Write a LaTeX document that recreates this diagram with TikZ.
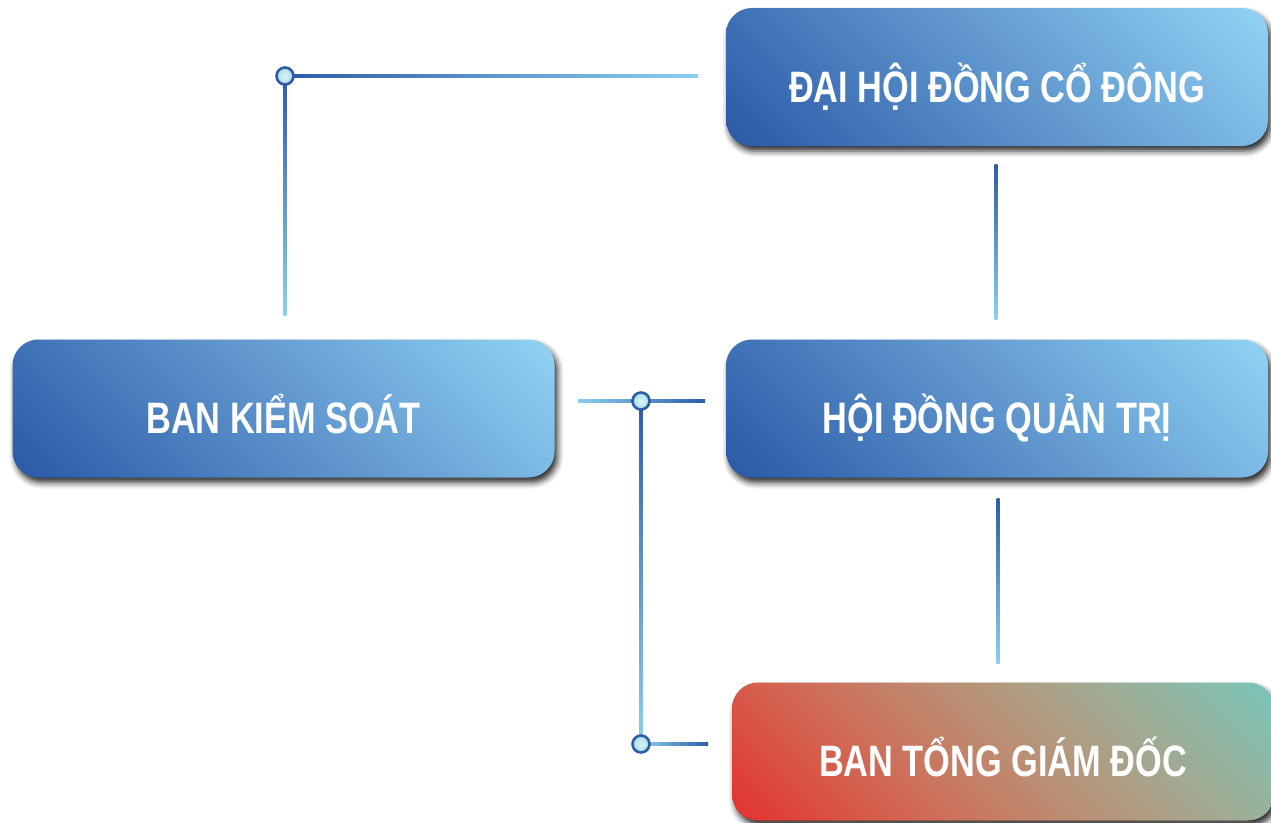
\documentclass[tikz,border=0pt]{standalone}
\usepackage{fontspec}
\newfontfamily\boxfont{Liberation Sans}[FakeStretch=0.78]
\usetikzlibrary{shadows.blur,calc}
\definecolor{ldark}{HTML}{2D5CA8}
\definecolor{llight}{HTML}{8CCFF0}
\definecolor{dotfill}{HTML}{A9DDE6}
% diagonal gradients: box fills inner 50bp square; t = 0..1 from lower-left to upper-right corner
\pgfdeclarefunctionalshading{bluegrad}{\pgfpointorigin}{\pgfpoint{100bp}{100bp}}{}{
  0.0040588 mul exch 0.015941 mul add 0.5 sub
  dup dup 0.408 mul 0.165 add 3 1 roll 0.482 mul 0.345 add exch 0.306 mul 0.651 add
}
\pgfdeclarefunctionalshading{redgrad}{\pgfpointorigin}{\pgfpoint{100bp}{100bp}}{}{
  0.0040588 mul exch 0.015941 mul add 0.5 sub
  dup dup -0.226 mul -0.193 add mul 0.890 add exch
  dup dup -0.282 mul 0.863 add mul 0.188 add exch
  dup 0.038 mul 0.507 add mul 0.184 add
}
\tikzset{
  box/.style={rounded corners=26pt, minimum width=542pt, minimum height=138pt,
    inner sep=0pt, text=white, font=\boxfont\bfseries\fontsize{44}{44}\selectfont,
    text height=50pt, text depth=0pt,
    blur shadow={shadow xshift=3pt, shadow yshift=-5pt, shadow blur radius=6pt, shadow opacity=85}},
  bluebox/.style={box, shade, shading=bluegrad},
  redbox/.style={box, shade, shading=redgrad},
  dot/.style={circle, minimum size=17pt, inner sep=0pt, draw=ldark, line width=2.6pt,
    inner color=dotfill!40!white, outer color=dotfill},
  hline/.style={left color=ldark, right color=llight},
  hlinerev/.style={left color=llight, right color=ldark},
  vline/.style={top color=ldark, bottom color=llight},
}
\begin{document}
\begin{tikzpicture}[x=1pt,y=-1pt]
\useasboundingbox (0,0) rectangle (1271,822);
% boxes
\node[bluebox] (dhd) at (997,77) {ĐẠI HỘI ĐỒNG CỔ ĐÔNG};
\node[bluebox] (bks) at (283.5,408.5) {BAN KIỂM SOÁT};
\node[bluebox] (hdqt) at (997,408.5) {HỘI ĐỒNG QUẢN TRỊ};
\node[redbox] (btgd) at (1003,751.5) {BAN TỔNG GIÁM ĐỐC};
% connector coordinates
\coordinate (c1) at (285,76);
\coordinate (e1) at (698,76);
\coordinate (e2) at (285,315);
\coordinate (a3) at (996,164);
\coordinate (b3) at (996,319);
\coordinate (a4) at (998,498);
\coordinate (b4) at (998,663);
\coordinate (c2) at (641,401);
\coordinate (l5) at (578,401);
\coordinate (r5) at (705,401);
\coordinate (c3) at (641,744);
\coordinate (r7) at (708,744);
% lines
\shade[hline] ($(c1)+(0,-1.5)$) rectangle ($(e1)+(0,1.5)$);
\shade[vline] ($(c1)+(-1.5,0)$) rectangle ($(e2)+(1.5,0)$);
\shade[vline] ($(a3)+(-1.5,0)$) rectangle ($(b3)+(1.5,0)$);
\shade[vline] ($(a4)+(-1.5,0)$) rectangle ($(b4)+(1.5,0)$);
\shade[hlinerev] ($(l5)+(0,-1.5)$) rectangle ($(r5)+(0,1.5)$);
\shade[vline] ($(c2)+(-1.5,0)$) rectangle ($(c3)+(1.5,0)$);
\shade[hlinerev] ($(c3)+(0,-1.5)$) rectangle ($(r7)+(0,1.5)$);
% dots
\node[dot] (d1) at (c1) {};
\node[dot] (d2) at (c2) {};
\node[dot] (d3) at (c3) {};
\end{tikzpicture}
\end{document}
